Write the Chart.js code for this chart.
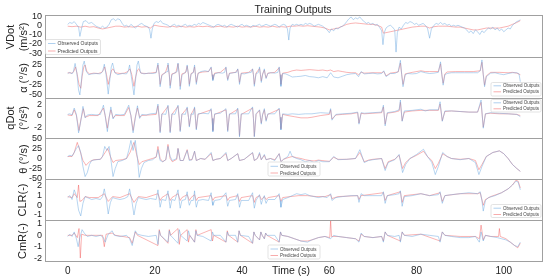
<!DOCTYPE html>
<html><head><meta charset="utf-8">
<script src="https://cdn.jsdelivr.net/npm/chart.js@4"></script>
<style>
body{margin:0;background:#fff;width:550px;height:277px;overflow:hidden;position:relative;font-family:"Liberation Sans",Arial,sans-serif;color:#222}
canvas{position:absolute;left:0;top:0}
.t{position:absolute;white-space:nowrap;line-height:1}
.r{position:absolute;white-space:nowrap;line-height:1;transform:translate(-50%,-50%) rotate(-90deg);font-size:11px}
</style></head><body>
<canvas id="c0" width="550" height="277"></canvas>
<canvas id="c1" width="550" height="277"></canvas>
<canvas id="c2" width="550" height="277"></canvas>
<canvas id="c3" width="550" height="277"></canvas>
<canvas id="c4" width="550" height="277"></canvas>
<canvas id="c5" width="550" height="277"></canvas>
<div class="t" style="left:293px;top:4px;font-size:10.5px;transform:translateX(-50%)">Training Outputs</div>
<div class="t" style="left:291px;top:265px;font-size:10.5px;transform:translateX(-50%)">Time (s)</div>
<div class="r" style="left:10px;top:37px">VDot</div>
<div class="r" style="left:23px;top:37px">(m/s²)</div>
<div class="r" style="left:23px;top:78px">α (°/s)</div>
<div class="r" style="left:10px;top:118px">qDot</div>
<div class="r" style="left:23px;top:118px">(°/s²)</div>
<div class="r" style="left:23px;top:159px">θ (°/s)</div>
<div class="r" style="left:22px;top:200px">CLR(-)</div>
<div class="r" style="left:22px;top:241px">CmR(-)</div>
<script>
// ---- data: [time (s), value] ----
const timeTicks=[0,20,40,60,80,100];
const vdotTicks=[10,0,-10,-20,-30];
const alphaTicks=[25,0,-25,-50];
const qdotTicks=[2,0,-2];
const thetaTicks=[50,25,0,-25,-50];
const clrTicks=[2,1,0,-1];
const cmrTicks=[1,0,-1,-2];
const seriesNames=["Observed Outputs","Predicted Outputs"];

const vdotObs=[[0,1],[0.5,3],[1,2],[1.5,4],[2,1],[2.5,-2],[2.8,-12],[3.2,-3],[3.6,4],[4.2,5],[4.8,2],[5.5,3],[6,1],[6.5,-1],[7,-2],[7.5,-3],[8,-1],[8.5,-3],[9,-2],[9.5,1],[10,6],[10.5,7],[11,5],[11.5,7],[12,6],[12.5,2],[13,-1],[13.5,0],[14,-2],[14.5,1],[15,-1],[15.5,-3],[16,-1],[16.5,1],[17,2],[17.5,0],[18,-1],[18.5,-2],[18.8,-5],[19.1,-14],[19.4,-4],[19.8,2],[20.3,4],[20.8,3],[21.3,5],[21.8,2],[22.5,1],[23,0],[23.5,-2],[24,0],[24.5,1],[25,-1],[25.5,0],[26,-2],[26.5,0],[27,1],[27.5,-1],[28,0],[28.5,-1],[29,1],[29.5,0],[30,2],[30.5,1],[31,3],[31.5,2],[32,1],[32.5,0],[33,-1],[33.5,-2],[34,0],[34.5,1],[35,0],[35.5,-1],[36,0],[36.5,-2],[37,0],[37.5,1],[38,0],[38.5,-1],[39,-2],[39.5,0],[40,1],[40.5,-1],[41,0],[41.5,-1],[42,-2],[42.5,0],[43,-1],[43.5,0],[44,1],[44.5,-1],[45,0],[45.5,1],[46,0],[46.5,-1],[47,0],[47.5,1],[48,0],[48.5,-2],[49,0],[49.5,1],[50,0],[50.4,-4],[50.7,-16],[51,-3],[51.5,1],[52,0],[52.5,1],[53,0],[53.5,1],[54,0],[54.5,2],[55,1],[55.5,2],[56,1],[56.5,-1],[57,0],[57.5,1],[58,0],[58.5,-1],[59,-3],[59.5,-5],[60,-8],[60.5,-4],[61,-6],[61.5,-3],[62,-4],[62.5,-2],[63,-1],[63.5,1],[64,4],[64.5,7],[65,9],[65.5,6],[66,8],[66.5,7],[67,9],[67.5,6],[68,4],[68.5,2],[69,3],[69.5,1],[70,2],[70.5,0],[71,1],[71.5,-2],[72,-6],[72.3,-21],[72.6,-8],[73,-3],[73.5,-1],[74,0],[74.5,-2],[75,-5],[75.3,-29],[75.6,-8],[76,-2],[76.5,-4],[77,0],[77.5,3],[78,2],[78.5,4],[79,3],[79.5,1],[80,2],[80.5,0],[81,1],[81.5,2],[82,0],[82.5,-3],[83,-14],[83.4,-4],[84,0],[84.5,2],[85,1],[85.5,3],[86,1],[86.5,2],[87,0],[87.5,1],[88,-1],[88.5,0],[89,-1],[89.5,0],[90,-1],[90.5,-2],[91,-3],[91.5,-5],[92,-8],[92.5,-6],[93,-9],[93.5,-5],[94,-7],[94.5,-10],[95,-6],[95.5,-8],[96,-5],[96.5,-3],[97,-4],[97.5,-2],[98,-5],[98.5,-3],[99,-6],[99.5,-4],[100,-7],[100.5,-5],[101,-3],[101.5,-4],[102,0],[102.5,2],[103,4],[103.5,5],[103.8,6]];
const vdotPred=[[0,-1],[1,-1.5],[2,-1],[3,-2],[4,-1],[5,-2],[6,-1.5],[7,-3],[8,-4],[9,-3],[10,-2],[11,-1],[12,-1],[13,-2],[14,-1.5],[15,-2],[16,-1],[17,-2],[18,-1.5],[19,-3],[19.5,-1],[20,0],[21,-1],[22,-1.5],[23,-2],[24,-1],[25,-2],[26,-1],[27,-2],[28,-1.5],[29,-2],[30,-1],[31,-1.5],[32,-1],[33,-2],[34,-1.5],[35,-1],[36,-2],[37,-1.5],[38,-2],[39,-1],[40,-2],[41,-1.5],[42,-2],[43,-1],[44,-2],[45,-1.5],[46,-2],[47,-1],[48,-2],[49,-1.5],[50,-2],[51,-1],[52,-1],[53,-0.5],[54,-1],[55,-0.5],[56,-1],[57,-1.5],[58,-2],[59,-3],[60,-5],[61,-4],[62,-3],[63,-1],[64,1],[65,2],[66,2.5],[67,2],[68,1.5],[69,1],[70,1],[71,0],[72,-2],[72.4,-8.5],[73,-8],[74,-7],[75,-6],[76,-5],[77,-4],[78,-3],[79,-2],[80,-1.5],[81,-1],[82,-1],[83,-3],[84,-1.5],[85,-1],[86,-1],[87,-1],[88,-1.5],[89,-2],[90,-2],[91,-3],[92,-4],[93,-5],[94,-5],[95,-4],[96,-3],[97,-3],[98,-3],[99,-3],[100,-2],[101,-1],[102,1],[103,3],[103.8,5]];

const alphaObs=[[0,3],[0.5,6],[1,2],[1.3,8],[1.7,29],[2.1,5],[2.5,-40],[2.8,-52],[3.2,-10],[3.5,25],[3.8,35],[4.2,10],[4.8,0],[5.5,2],[6.5,3],[7.5,2],[8.0,8],[8.4,27],[8.8,0],[9.3,-50],[9.7,-10],[10.0,20],[10.3,30],[10.8,5],[11.5,0],[12.5,3],[13.5,2],[13.9,10],[14.2,25],[14.6,-5],[15.2,-52],[15.6,-10],[15.9,25],[16.2,35],[16.7,5],[17.5,2],[18.5,4],[19.5,3],[20.3,5],[20.7,30],[21.0,0],[21.2,-31],[21.6,-2],[22.3,5],[22.8,8],[23.0,30],[23.3,0],[23.5,-35],[23.9,0],[24.6,5],[25.1,8],[25.3,30],[25.6,0],[25.8,-38],[26.2,-2],[26.8,5],[27.2,8],[27.4,25],[27.7,0],[27.9,-30],[28.3,2],[28.8,5],[29.1,25],[29.3,0],[29.5,-25],[29.9,3],[30.5,8],[31.5,10],[32.3,8],[32.9,20],[33.1,0],[33.3,-15],[33.7,2],[34.5,5],[35.5,4],[36.0,6],[36.3,20],[36.5,0],[36.7,-15],[37.1,3],[38,5],[38.7,6],[39.0,15],[39.2,0],[39.4,-25],[39.8,3],[40.5,2],[41.5,5],[42.1,6],[42.4,15],[42.6,0],[42.8,-30],[43.2,3],[43.7,5],[44.0,20],[44.2,0],[44.4,-20],[44.7,0],[45.1,15],[45.3,0],[45.5,-10],[45.9,3],[46.5,5],[47.5,4],[48.2,6],[48.5,20],[48.7,0],[48.9,-30],[49.3,3],[50,2],[50.8,-2],[51.5,-6],[52.5,-5],[53.5,-4],[54.5,-2],[55.5,-5],[56.5,-6],[57.5,-8],[58.5,-5],[59.5,-8],[60.3,5],[61,-6],[62,-8],[63,-4],[64,0],[65,2],[66,3],[66.7,-5],[67.3,8],[68,2],[69,3],[70,4],[71,2],[72,3],[72.5,10],[73,-5],[74,3],[75,3],[75.8,8],[76.3,37],[76.6,0],[76.9,-31],[77.4,0],[78,3],[79,2],[80,3],[81,8],[82,5],[83,3],[84,4],[85,6],[85.5,33],[85.8,0],[86.1,-27],[86.5,0],[87,3],[88,5],[89,5],[90,5],[91,5],[92,5],[93,5],[94,5],[94.6,10],[95.0,38],[95.3,0],[95.6,-31],[96,-5],[97,4],[98,5],[99,2],[100,0],[101,3],[102,5],[103,5],[103.5,2],[103.8,-18]];
const alphaPred=[[0,5],[1,4],[1.4,8],[1.8,20],[2.2,0],[2.6,-25],[3.0,-35],[3.3,-5],[3.7,20],[4.0,25],[4.4,8],[5,2],[6,4],[7,3],[7.8,6],[8.2,12],[8.5,20],[8.9,0],[9.3,-25],[9.7,-5],[10.1,12],[10.4,15],[10.9,5],[12,3],[13,4],[13.8,8],[14.3,15],[14.7,0],[15.2,-30],[15.6,-5],[16,12],[16.3,15],[16.8,4],[18,3],[19,4],[20.3,6],[20.7,25],[21,0],[21.2,-25],[21.6,0],[22.4,5],[23,25],[23.3,0],[23.5,-28],[23.9,2],[24.8,5],[25.3,28],[25.6,0],[25.8,-30],[26.2,2],[27,5],[27.4,22],[27.7,0],[27.9,-25],[28.3,3],[28.8,6],[29.1,20],[29.3,0],[29.5,-20],[29.9,4],[31,7],[32.3,8],[32.9,18],[33.1,0],[33.3,-12],[33.7,4],[35,6],[36.3,18],[36.5,0],[36.7,-12],[37.1,4],[38.5,6],[39,14],[39.2,0],[39.4,-20],[39.8,4],[41.5,6],[42.4,14],[42.6,0],[42.8,-25],[43.2,4],[44,16],[44.2,0],[44.4,-16],[44.7,2],[45.1,12],[45.3,0],[45.5,-8],[45.9,4],[47.5,6],[48.5,18],[48.7,0],[48.9,-25],[49.3,4],[50.5,6],[51.5,10],[52.5,12],[53.5,11],[54.5,12],[55.5,13],[56.5,12],[57.5,11],[58.5,12],[59.5,10],[60.3,12],[61,8],[62,10],[63,8],[64,6],[65,5],[66,5],[66.7,0],[67.3,6],[68,4],[70,5],[72,5],[72.5,8],[73,-3],[74,4],[75.8,7],[76.3,30],[76.6,0],[76.9,-25],[77.4,2],[79,6],[81,10],[82,8],[83,8],[84,8],[85,8],[85.5,28],[85.8,0],[86.1,-22],[86.5,2],[87,7],[89,8],[91,8],[93,8],[94.6,10],[95.0,32],[95.3,0],[95.6,-27],[96,-3],[97,6],[99,6],[101,5],[102,6],[103,4],[103.8,0]];

const qdotObs=[[0,0.2],[0.5,0.3],[1,0.1],[1.5,1.3],[2,0.2],[2.5,-3.0],[3,-1],[3.5,1.6],[4,-0.4],[4.5,0.1],[5.5,0.2],[6.5,0.1],[7.5,0.2],[8.2,1.8],[8.6,0],[9.1,-2.8],[9.5,-0.5],[9.9,1.5],[10.4,-0.6],[11,0.2],[12,0.1],[13,0.2],[14,1.8],[14.5,0],[15,-3.0],[15.5,-0.5],[16,1.7],[16.5,-0.5],[17,0.2],[18,0.1],[19,0.3],[20.3,0.4],[20.7,2.0],[21.0,-0.5],[21.2,-3.0],[21.6,0.3],[22.5,0.2],[23.0,1.8],[23.3,-0.5],[23.5,-3.0],[23.9,0.3],[24.6,0.2],[25.3,1.8],[25.6,-0.5],[25.8,-2.8],[26.2,0.3],[27,0.2],[27.4,1.5],[27.7,-0.3],[27.9,-2.0],[28.3,0.3],[28.8,0.2],[29.1,1.5],[29.3,-0.5],[29.5,-2.5],[29.9,0.3],[31,0.4],[32.3,0.3],[32.9,1.2],[33.1,-0.5],[33.3,-2.8],[33.7,0.3],[35,0.4],[36.3,1.2],[36.5,-0.5],[36.7,-2.8],[37.1,0.3],[38.5,0.3],[39,1.3],[39.2,-0.5],[39.4,-3.7],[39.8,0.3],[41.5,0.3],[42.4,1.5],[42.6,-0.5],[42.8,-3.7],[43.2,0.3],[44,1.0],[44.2,-0.3],[44.4,-1.5],[44.7,0.2],[45.1,1.2],[45.3,0],[45.5,-1.0],[45.9,0.3],[47.5,0.3],[48.5,1.3],[48.7,-0.3],[48.9,-2.5],[49.3,0.3],[50.5,0.2],[51.5,0.3],[53,0.2],[54.5,0.3],[56,0.3],[58,0.5],[60,0.4],[60.3,1.2],[60.6,-0.8],[61.5,0.2],[63,0.3],[65,0.4],[66.5,0.6],[66.8,-1.5],[67.3,0.5],[68,0.4],[70,0.5],[72,0.6],[72.4,1.8],[72.8,-1.8],[73.3,0.5],[75,0.7],[76,1.0],[76.3,2.7],[76.7,-1.0],[77.2,0.8],[79,0.9],[81,1.1],[82,0.8],[83,1.0],[85,1.0],[85.4,2.4],[85.9,-1.0],[86.5,0.8],[88,0.8],[90,0.7],[92,0.6],[94,0.6],[94.8,2.7],[95.3,-2.2],[95.8,0.3],[97,0.5],[99,0.4],[101,0.3],[103,0.2],[103.8,-0.2]];
const qdotPred=[[0,0.1],[1,0],[1.5,1.0],[2,0],[2.6,-2.6],[3,-0.8],[3.6,1.2],[4,-0.3],[5,0],[7,0],[8.2,1.3],[8.6,0],[9.1,-2.2],[9.5,-0.3],[9.9,1.0],[10.4,-0.4],[11,0],[13,0],[14,1.4],[14.5,0],[15,-2.6],[15.5,-0.3],[16,1.3],[16.5,-0.3],[17,0],[20.3,0.2],[20.7,1.7],[21,-0.5],[21.2,-2.8],[21.6,0.2],[23,1.6],[23.3,-0.5],[23.5,-2.8],[23.9,0.2],[25.3,1.6],[25.6,-0.5],[25.8,-2.6],[26.2,0.2],[27.4,1.3],[27.7,-0.3],[27.9,-1.8],[28.3,0.2],[29.1,1.3],[29.3,-0.5],[29.5,-2.3],[29.9,0.2],[32.9,1.0],[33.1,-0.5],[33.3,-2.6],[33.7,0.2],[36.3,1.0],[36.5,-0.5],[36.7,-2.6],[37.1,0.2],[39,1.1],[39.2,-0.5],[39.4,-3.5],[39.8,0.2],[42.4,1.3],[42.6,-0.5],[42.8,-3.6],[43.2,0.2],[44,0.9],[44.2,-0.3],[44.4,-1.3],[44.7,0.1],[45.1,1.0],[45.3,0],[45.5,-0.8],[45.9,0.2],[48.5,1.1],[48.7,-0.3],[48.9,-2.3],[49.3,0.2],[50.5,0],[52,-0.2],[53.5,-0.4],[55,-0.4],[56,-0.3],[58,0],[60,0.2],[60.3,1.0],[60.6,-0.6],[61.5,0.1],[63,0.2],[65,0.3],[66.5,0.5],[66.8,-1.3],[67.3,0.4],[68,0.3],[70,0.4],[72,0.5],[72.4,1.5],[72.8,-1.5],[73.3,0.4],[75,0.6],[76,0.8],[76.3,2.3],[76.7,-0.9],[77.2,0.6],[79,0.8],[81,0.9],[83,0.9],[85,0.9],[85.4,2.0],[85.9,-0.9],[86.5,0.7],[88,0.8],[90,0.7],[92,0.6],[94,0.6],[94.8,2.3],[95.3,-2.0],[95.8,0.3],[97,0.4],[99,0.3],[101,0.3],[103,0.2],[103.8,0]];

const thetaObs=[[0,5],[0.5,8],[1,6],[1.5,15],[2.0,25],[2.5,32],[3.0,15],[3.5,-20],[4.0,-45],[4.5,-35],[5.0,-15],[5.5,-5],[6.5,-3],[7.5,-2],[8.0,5],[8.5,30],[9.0,20],[9.5,30],[10.0,-10],[10.4,-45],[10.9,-25],[11.5,-8],[12.5,-5],[13.5,0],[14.0,20],[14.5,45],[15.0,20],[15.5,45],[16.0,0],[16.4,-47],[16.9,-25],[17.5,-10],[18.5,-5],[19.5,-3],[20.3,5],[20.7,22],[21.2,-5],[21.8,-8],[22.5,-3],[23,30],[23.5,5],[24,-5],[25,0],[25.3,25],[25.8,-5],[26.5,-5],[27.4,20],[27.9,-5],[28.5,-3],[29.1,18],[29.5,-5],[30.5,0],[31.5,-2],[32.9,15],[33.3,-5],[34,-2],[35,0],[36.3,15],[36.7,-5],[37.5,0],[39,12],[39.4,-5],[40.5,-2],[42.4,15],[42.8,-5],[43.5,0],[44,15],[44.4,-3],[45.1,10],[45.5,-3],[46.5,0],[47.5,-5],[48.5,12],[48.9,-8],[49.5,-2],[50.5,5],[51,18],[51.5,5],[52.5,0],[53.5,-3],[54.5,-8],[55.5,-5],[56.5,-10],[57.5,-5],[58.5,-8],[60,-8],[61,5],[62,-3],[64,-2],[66,0],[67,22],[68,-10],[69,-5],[70,-3],[72,0],[72.8,-30],[73.5,-10],[75,-3],[76,10],[76.8,-35],[77.5,-15],[78.5,0],[80,10],[81.6,23],[82.5,5],[83.5,-10],[84.3,-40],[85,-20],[86,15],[87,5],[88,0],[90,-3],[92,0],[93.5,-10],[94.3,-40],[95,-20],[96,5],[97.5,15],[99,19],[100,12],[101,0],[102,-15],[103,-25],[103.8,-32]];
const thetaPred=[[0,5],[1,5],[1.5,15],[2.2,40],[2.8,20],[3.5,-5],[4.2,-17],[5,-8],[6,-3],[7.5,-2],[8.3,10],[9.2,25],[9.8,5],[10.4,-10],[11,-5],[12.5,-3],[13.5,0],[14.3,15],[15.2,40],[15.8,10],[16.4,-15],[17,-8],[18.5,-3],[20.3,3],[20.7,30],[21.2,0],[21.8,-8],[22.5,-3],[23,35],[23.5,0],[24,-8],[25,-2],[25.3,25],[25.8,-5],[26.5,-5],[27.4,22],[27.9,-3],[28.5,-3],[29.1,18],[29.5,-5],[30.5,0],[31.5,-2],[32.9,12],[33.3,-5],[34,-2],[35,0],[36.3,12],[36.7,-5],[37.5,0],[39,12],[39.4,-5],[40.5,-2],[42.4,14],[42.8,-5],[43.5,0],[44,12],[44.4,-3],[45.1,8],[45.5,-3],[46.5,0],[47.5,-3],[48.5,12],[48.9,-8],[49.5,-2],[50.5,2],[51.5,5],[52.5,2],[53.5,0],[54.5,-3],[55.5,-5],[56.5,-6],[57.5,-4],[59,-6],[60,-7],[61,3],[62,-2],[64,-2],[66,0],[67,15],[68,-8],[69,-4],[70,-2],[72,0],[72.8,-25],[73.5,-8],[75,-2],[76,8],[76.8,-25],[77.5,-10],[78.5,0],[80,8],[81.6,18],[82.5,5],[83.5,-5],[84.3,-25],[85,-12],[86,12],[87,5],[88,0],[90,-2],[92,0],[93.5,-5],[94.3,-28],[95,-15],[96,5],[97.5,15],[99,19],[100,12],[101,0],[102,-15],[103,-25],[103.8,-32]];

const clrObs=[[0,0.8],[0.5,1.0],[1,0.6],[1.5,1.6],[2,1.0],[2.5,-0.5],[3,-1.1],[3.5,0.2],[4,0.9],[4.5,0.8],[5.5,0.6],[6.5,0.7],[7.5,0.6],[8,0.9],[8.4,1.7],[8.9,0.5],[9.3,-0.9],[9.8,0.3],[10.3,0.8],[11,0.7],[12,0.6],[13,0.7],[13.8,0.9],[14.2,1.7],[14.7,0.5],[15.2,-1.0],[15.7,0.2],[16.2,0.8],[17,0.7],[18,0.6],[19,0.7],[20.3,0.6],[20.7,1.6],[21,0.5],[21.2,-0.2],[21.6,0.6],[22.5,0.5],[23,1.5],[23.3,0.4],[23.5,-0.3],[23.9,0.6],[24.6,0.5],[25.3,1.6],[25.6,0.4],[25.8,-0.3],[26.2,0.5],[27,0.6],[27.4,1.4],[27.7,0.4],[27.9,0.0],[28.3,0.5],[28.8,0.5],[29.1,1.5],[29.3,0.4],[29.5,-0.2],[29.9,0.5],[31,0.6],[32.3,0.5],[32.9,1.3],[33.1,0.4],[33.3,0.0],[33.7,0.5],[35,0.6],[36.3,1.3],[36.5,0.4],[36.7,-0.1],[37.1,0.5],[38.5,0.6],[39,1.2],[39.2,0.4],[39.4,-0.2],[39.8,0.5],[41.5,0.5],[42.4,1.3],[42.6,0.4],[42.8,-0.3],[43.2,0.5],[44,1.1],[44.2,0.5],[44.4,0.1],[44.7,0.6],[45.1,1.0],[45.3,0.5],[45.5,0.2],[45.9,0.6],[47.5,0.6],[48.5,1.2],[48.7,0.5],[48.9,-0.2],[49.3,0.6],[50.5,0.8],[51.5,1.0],[52.5,1.2],[53.5,1.1],[54.5,1.2],[55.5,1.0],[56.5,0.9],[57.5,0.8],[58.5,0.9],[59.5,0.8],[60.3,1.2],[60.6,0.5],[61.5,0.8],[63,0.9],[65,1.0],[66.5,1.0],[66.8,0.3],[67.3,1.2],[68,1.0],[70,1.0],[72,1.0],[72.4,1.4],[72.8,0.2],[73.3,1.0],[75,1.1],[76,1.2],[76.3,1.5],[76.7,-0.1],[77.2,0.9],[79,1.0],[81,1.2],[82,1.1],[83,1.0],[85,1.1],[85.4,1.4],[85.9,0.2],[86.5,1.0],[88,1.1],[90,1.2],[92,1.3],[94,1.2],[94.6,1.4],[95.0,0.5],[95.3,-0.6],[95.8,0.5],[96.5,0.8],[98,1.0],[99.5,1.3],[101,1.7],[102,2.1],[102.8,2.5],[103.3,2.4],[103.8,1.6]];
const clrPred=[[0,0.9],[1,0.8],[1.5,1.2],[2.2,0.8],[2.5,2.1],[2.8,0.4],[3.3,0.5],[4,0.9],[5,0.8],[7,0.8],[8.4,1.2],[9.3,0.4],[10.3,0.9],[12,0.8],[14.2,1.2],[15.2,0.3],[16.2,0.9],[18,0.8],[20.7,1.2],[21.2,0.5],[21.6,0.8],[23,1.2],[23.5,0.5],[23.9,0.8],[25.3,1.2],[25.8,0.5],[26.2,0.8],[27.4,1.1],[27.9,0.5],[28.3,0.8],[29.1,1.1],[29.5,0.5],[29.9,0.8],[32.9,1.0],[33.3,0.5],[33.7,0.8],[36.3,1.0],[36.7,0.5],[37.1,0.8],[39,1.0],[39.4,0.4],[39.8,0.8],[42.4,1.0],[42.8,0.3],[43.2,0.8],[44,1.0],[44.4,0.6],[45.1,0.9],[45.5,0.6],[46,0.8],[48.5,1.0],[48.9,0.4],[49.3,0.8],[51,0.9],[53,1.0],[55,1.0],[57,0.9],[59,0.9],[60.3,1.1],[60.6,0.7],[62,0.9],[66.5,1.0],[66.8,0.6],[67.3,1.0],[72.4,1.3],[72.8,0.5],[73.3,1.0],[76.3,1.4],[76.7,0.3],[77.2,1.0],[81,1.2],[83,1.0],[85.4,1.3],[85.9,0.4],[86.5,1.0],[90,1.2],[94,1.2],[94.6,1.3],[95.3,0.0],[95.8,0.6],[97,0.9],[99.5,1.3],[101,1.7],[102,2.1],[102.8,2.6],[103.3,2.5],[103.8,1.8]];

const cmrObs=[[0,-0.1],[0.5,0.1],[1,-0.1],[1.5,0.3],[2,-0.3],[2.4,-1.0],[2.8,-0.2],[3.3,0.5],[3.8,0.2],[4.5,-0.1],[5.5,0],[6.5,-0.1],[7.5,0],[8.2,-0.2],[8.6,-0.6],[9.3,0.1],[10.2,0.4],[10.7,0],[12,-0.1],[13.5,0],[14.2,-0.3],[14.8,-0.9],[15.5,0.4],[16,0.1],[17,0],[18.5,-0.1],[20.3,0],[20.7,-0.8],[21,0.4],[21.3,0],[23,-0.6],[23.3,0.4],[23.6,0],[25.3,-0.7],[25.6,0.5],[25.9,0],[27.4,-0.5],[27.7,0.4],[28,0],[29.1,-0.6],[29.4,0.4],[29.7,0],[31,-0.1],[32.9,-0.5],[33.2,0.3],[33.5,0],[35,0],[36.3,-0.6],[36.6,0.3],[36.9,0],[38.5,0],[39,-0.6],[39.3,0.4],[39.6,0],[41.5,-0.1],[42.4,-0.7],[42.7,0.3],[43,0],[44,-0.4],[44.3,0.3],[44.6,0],[45.1,-0.3],[45.4,0.2],[45.7,0],[47.5,0],[48.5,-0.6],[48.8,0.3],[49.1,0],[50.5,-0.1],[52,-0.3],[53.5,-0.5],[55,-0.6],[56,-0.4],[57.5,-0.2],[59,-0.1],[60.3,-0.3],[61,0],[62,-0.1],[64,-0.2],[66,-0.3],[66.8,-0.6],[67.3,0.2],[68,-0.1],[70,-0.2],[72,-0.1],[72.4,-0.6],[72.8,0.3],[73.3,0],[75,-0.1],[76,0],[76.3,-0.6],[76.7,0.3],[77.2,0],[79,-0.1],[81,0.1],[83,0],[85,-0.1],[85.4,-0.6],[85.9,0.3],[86.5,0],[88,-0.1],[90,-0.2],[92,-0.2],[93.5,-0.1],[94.4,-0.6],[94.8,0.3],[95.3,-0.5],[95.8,0],[97,-0.1],[98.5,-0.2],[99.5,-0.3],[100.5,-0.4],[101.5,-0.6],[102.5,-0.9],[103.2,-1.0],[103.8,-0.6]];
const cmrPred=[[0,0],[1,0],[1.5,0.2],[2.2,-0.2],[2.6,0.6],[2.9,-2.0],[3.2,0.1],[4,0],[6,0],[8,0],[8.4,-1.0],[8.8,0.1],[10.2,0.2],[11,0],[14.2,-0.2],[14.8,-0.7],[15.5,0.3],[16,0],[20.7,-0.9],[21,0.5],[21.3,0],[23,-0.7],[23.3,0.5],[23.6,0],[25.3,0.6],[25.6,-0.8],[25.9,0],[27.4,0.5],[27.7,-0.6],[28,0],[29.1,-0.6],[29.4,0.5],[29.7,0],[32.9,0.5],[33.2,-0.5],[33.5,0],[36.3,-0.6],[36.6,0.4],[36.9,0],[39,-0.6],[39.3,0.4],[39.6,0],[42.4,-0.7],[42.7,0.3],[43,0],[44,-0.4],[44.3,0.3],[44.6,0],[45.1,-0.3],[45.4,0.2],[45.7,0],[48.5,-0.6],[48.8,0.3],[49.1,0],[50.5,-0.1],[52,-0.3],[53.5,-0.5],[55,-0.5],[56,-0.4],[57.5,-0.2],[59,-0.1],[60.1,-0.2],[60.3,1.3],[60.5,-0.1],[62,-0.1],[64,-0.2],[66,-0.3],[66.8,-0.5],[67.3,0.1],[68,-0.1],[70,-0.2],[72,-0.1],[72.4,-0.5],[72.8,0.3],[73.3,0],[76.3,-0.5],[76.7,0.3],[77.2,0],[81,0.1],[85.4,-0.5],[85.9,0.3],[86.5,0],[90,-0.1],[93.5,-0.1],[94.4,-0.3],[94.8,0.9],[95.3,-0.4],[95.8,0],[97,-0.1],[98.8,-0.1],[99,0.6],[99.2,-0.1],[100.5,-0.3],[101.5,-0.6],[102.5,-0.9],[103.2,-1.1],[103.8,-0.7]];

// ---- layout / style ----
const OBS_COLOR='rgba(110,170,225,0.55)';
const PRED_COLOR='rgba(240,70,70,0.45)';
const panels=[
 {obs:vdotObs,pred:vdotPred,min:-34.3,max:11.1,ticks:vdotTicks,top:15,bottom:57,leg:{x:45.5,y:39.5,w:55,h:15,r1:43.5,r2:51,fs:5}},
 {obs:alphaObs,pred:alphaPred,min:-60,max:45.5,ticks:alphaTicks,top:57,bottom:98,leg:{x:491,y:82.5,w:50,h:13.5,r1:85.8,r2:91.8,fs:4.5}},
 {obs:qdotObs,pred:qdotPred,min:-3.9,max:3.05,ticks:qdotTicks,top:98,bottom:138,leg:{x:491,y:99.5,w:50,h:12.5,r1:102.8,r2:108.8,fs:4.5}},
 {obs:thetaObs,pred:thetaPred,min:-51,max:51,ticks:thetaTicks,top:138,bottom:179,leg:{x:268,y:162,w:52,h:14,r1:166.3,r2:173,fs:4.5}},
 {obs:clrObs,pred:clrPred,min:-1.52,max:2.72,ticks:clrTicks,top:179,bottom:220,leg:{x:491,y:204.5,w:50,h:13,r1:208.2,r2:214.5,fs:4.5}},
 {obs:cmrObs,pred:cmrPred,min:-2.26,max:1.35,ticks:cmrTicks,top:220,bottom:261,leg:{x:268,y:245,w:52,h:14,r1:249,r2:255.5,fs:4.5}}
];
const toXY=a=>a.map(p=>({x:p[0],y:p[1]}));

panels.forEach((p,i)=>{
  const last=i===panels.length-1;
  const framePlugin={id:'frame'+i,
    afterDatasetsDraw(chart){
      const a=chart.chartArea,ctx=chart.ctx;
      ctx.save();
      ctx.strokeStyle='#a0a0a0';ctx.lineWidth=1;
      ctx.strokeRect(Math.round(a.left)+0.5,Math.round(a.top)+0.5,Math.round(a.right-a.left)-1,Math.round(a.bottom-a.top));
      const L=p.leg;
      ctx.fillStyle='rgba(255,255,255,0.85)';
      ctx.strokeStyle='#dcdcdc';ctx.lineWidth=0.8;
      ctx.beginPath();
      if(ctx.roundRect){ctx.roundRect(L.x,L.y,L.w,L.h,1.5);}else{ctx.rect(L.x,L.y,L.w,L.h);}
      ctx.fill();ctx.stroke();
      const cols=[OBS_COLOR,PRED_COLOR],rows=[L.r1,L.r2];
      ctx.font=L.fs+'px "Liberation Sans", Arial, sans-serif';
      ctx.textBaseline='middle';ctx.textAlign='left';
      for(let k=0;k<2;k++){
        ctx.strokeStyle=cols[k];ctx.lineWidth=1;
        ctx.beginPath();ctx.moveTo(L.x+2.5,rows[k]);ctx.lineTo(L.x+10,rows[k]);ctx.stroke();
        ctx.fillStyle='#444';
        ctx.fillText(seriesNames[k],L.x+12,rows[k]+0.3);
      }
      ctx.restore();
    }};
  new Chart(document.getElementById('c'+i),{
    type:'line',
    data:{datasets:[
      {label:seriesNames[0],data:toXY(p.obs),borderColor:OBS_COLOR,borderWidth:0.9,pointRadius:0,tension:0},
      {label:seriesNames[1],data:toXY(p.pred),borderColor:PRED_COLOR,borderWidth:0.9,pointRadius:0,tension:0}
    ]},
    options:{
      responsive:false,animation:false,devicePixelRatio:1,
      layout:{padding:{left:0,right:7,top:p.top,bottom:277-p.bottom-(last?16:0)}},
      plugins:{legend:{display:false},tooltip:{enabled:false},title:{display:false}},
      scales:{
        x:{type:'linear',min:-5.2,max:109,display:last,
           grid:{display:false,drawTicks:false},border:{display:false},
           afterBuildTicks:s=>{s.ticks=timeTicks.map(v=>({value:v}));},
           afterFit:s=>{s.height=last?16:0;},
           ticks:{padding:4,maxRotation:0,autoSkip:false,color:'#222',font:{size:10,family:'"Liberation Sans", Arial, sans-serif'}}},
        y:{type:'linear',min:p.min,max:p.max,
           grid:{display:false,drawTicks:false},border:{display:false},
           afterBuildTicks:s=>{s.ticks=p.ticks.map(v=>({value:v}));},
           afterFit:s=>{s.width=45;},
           ticks:{padding:3,autoSkip:false,color:'#222',font:{size:9,family:'"Liberation Sans", Arial, sans-serif'}}}
      }
    },
    plugins:[framePlugin]
  });
});
</script>
</body></html>
